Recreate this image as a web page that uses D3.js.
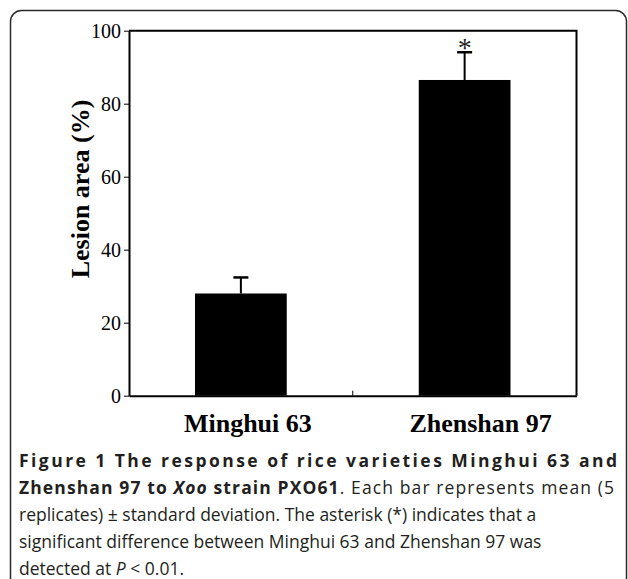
<!DOCTYPE html>
<html>
<head>
<meta charset="utf-8">
<script src="https://cdn.jsdelivr.net/npm/d3@7"></script>
<style>
  html, body { margin: 0; padding: 0; background: #fff; }
  svg { display: block; }
</style>
</head>
<body>
<svg id="chart" width="628" height="579"></svg>
<script>
// ---- data ----
const categories = ["Minghui 63", "Zhenshan 97"];
const means = [28.0, 86.5];
const sds = [4.4, 7.6];
const significance = ["", "*"];
const yTicks = [0, 20, 40, 60, 80, 100];
const yLabel = "Lesion area (%)";

const captionLines = [
  [{t: "Figure 1 The response of rice varieties Minghui 63 and", b: true}],
  [{t: "Zhenshan 97 to ", b: true}, {t: "Xoo", b: true, i: true}, {t: " strain PXO61", b: true}, {t: ". Each bar represents mean (5"}],
  [{t: "replicates) \u00B1 standard deviation. The asterisk (*) indicates that a"}],
  [{t: "significant difference between Minghui 63 and Zhenshan 97 was"}],
  [{t: "detected at "}, {t: "P", i: true}, {t: " < 0.01."}]
];

// ---- layout ----
const svg = d3.select("#chart");
const plot = {left: 129, right: 576.5, top: 30.7, bottom: 395.7};

// outer rounded frame
svg.append("rect")
  .attr("x", 10.5).attr("y", 10.5)
  .attr("width", 616).attr("height", 620)
  .attr("rx", 11).attr("ry", 11)
  .attr("fill", "none").attr("stroke", "#2a2a2a").attr("stroke-width", 1.5);

const x = d3.scaleBand()
  .domain(categories)
  .range([plot.left, plot.right])
  .paddingInner(0.59)
  .paddingOuter(0.295);

const y = d3.scaleLinear().domain([0, 100]).range([plot.bottom, plot.top]);

const serif = "'Liberation Serif', 'Times New Roman', serif";

// plot frame (top and right)
svg.append("path")
  .attr("d", `M${plot.left},${plot.top}H${plot.right}V${plot.bottom}`)
  .attr("fill", "none").attr("stroke", "#000").attr("stroke-width", 2);

// bars
svg.selectAll("rect.bar").data(categories).enter().append("rect")
  .attr("class", "bar")
  .attr("x", d => x(d))
  .attr("width", x.bandwidth())
  .attr("y", (d, i) => y(means[i]))
  .attr("height", (d, i) => y(0) - y(means[i]))
  .attr("fill", "#000");

// error bars (upper only)
const eb = svg.selectAll("g.err").data(categories).enter().append("g").attr("class", "err");
eb.append("line")
  .attr("x1", d => x(d) + x.bandwidth() / 2)
  .attr("x2", d => x(d) + x.bandwidth() / 2)
  .attr("y1", (d, i) => y(means[i]))
  .attr("y2", (d, i) => y(means[i] + sds[i]))
  .attr("stroke", "#000").attr("stroke-width", 2);
eb.append("line")
  .attr("x1", d => x(d) + x.bandwidth() / 2 - 7.5)
  .attr("x2", d => x(d) + x.bandwidth() / 2 + 7.5)
  .attr("y1", (d, i) => y(means[i] + sds[i]))
  .attr("y2", (d, i) => y(means[i] + sds[i]))
  .attr("stroke", "#000").attr("stroke-width", 2.5);

// significance marks
svg.selectAll("text.sig").data(categories).enter().append("text")
  .attr("class", "sig")
  .attr("x", d => x(d) + x.bandwidth() / 2)
  .attr("y", (d, i) => y(means[i] + sds[i]) + 5)
  .attr("text-anchor", "middle")
  .attr("font-family", serif).attr("font-size", 28)
  .attr("fill", "#222")
  .text((d, i) => significance[i]);

// y axis
const yAxis = svg.append("g")
  .attr("transform", `translate(${plot.left},0)`)
  .call(d3.axisLeft(y).tickValues(yTicks).tickSize(5).tickSizeOuter(0).tickPadding(3));
yAxis.select(".domain").attr("stroke", "#000").attr("stroke-width", 2);
yAxis.selectAll(".tick line").attr("stroke", "#000").attr("stroke-width", 1);
yAxis.selectAll(".tick text")
  .attr("font-family", serif).attr("font-size", 20).attr("fill", "#000");

// x axis
const xAxis = svg.append("g")
  .attr("transform", `translate(0,${plot.bottom})`)
  .call(d3.axisBottom(x).tickSize(0).tickSizeOuter(0).tickFormat(""));
xAxis.select(".domain").attr("stroke", "#000").attr("stroke-width", 2);
// middle tick between categories
svg.append("line")
  .attr("x1", (x(categories[0]) + x(categories[1]) + x.bandwidth()) / 2)
  .attr("x2", (x(categories[0]) + x(categories[1]) + x.bandwidth()) / 2)
  .attr("y1", plot.bottom).attr("y2", plot.bottom - 5)
  .attr("stroke", "#000").attr("stroke-width", 1);

// x category labels
const labelShift = [7, 16];
svg.selectAll("text.cat").data(categories).enter().append("text")
  .attr("class", "cat")
  .attr("x", (d, i) => x(d) + x.bandwidth() / 2 + labelShift[i])
  .attr("y", 432)
  .attr("text-anchor", "middle")
  .attr("font-family", serif).attr("font-weight", "bold").attr("font-size", 26)
  .attr("fill", "#000")
  .text(d => d);

// y axis title
svg.append("text")
  .attr("transform", `translate(89,189) rotate(-90)`)
  .attr("text-anchor", "middle")
  .attr("font-family", serif).attr("font-weight", "bold").attr("font-size", 26)
  .attr("fill", "#000")
  .text(yLabel);

// caption
const capBase = 467, capStep = 26.9;
const justify = [true, true, false, false, false];
captionLines.forEach((line, li) => {
  const t = svg.append("text")
    .attr("x", 19).attr("y", capBase + li * capStep)
    .attr("font-family", "'Open Sans', 'Noto Sans', sans-serif")
    .attr("font-size", 17.5)
    .attr("fill", "#231f20");
  if (justify[li]) t.attr("textLength", li === 0 ? 598 : 595).attr("lengthAdjust", "spacing");
  line.forEach(seg => {
    t.append("tspan")
      .attr("font-weight", seg.b ? "bold" : "normal")
      .attr("font-style", seg.i ? "italic" : "normal")
      .text(seg.t);
  });
});
</script>
</body>
</html>
